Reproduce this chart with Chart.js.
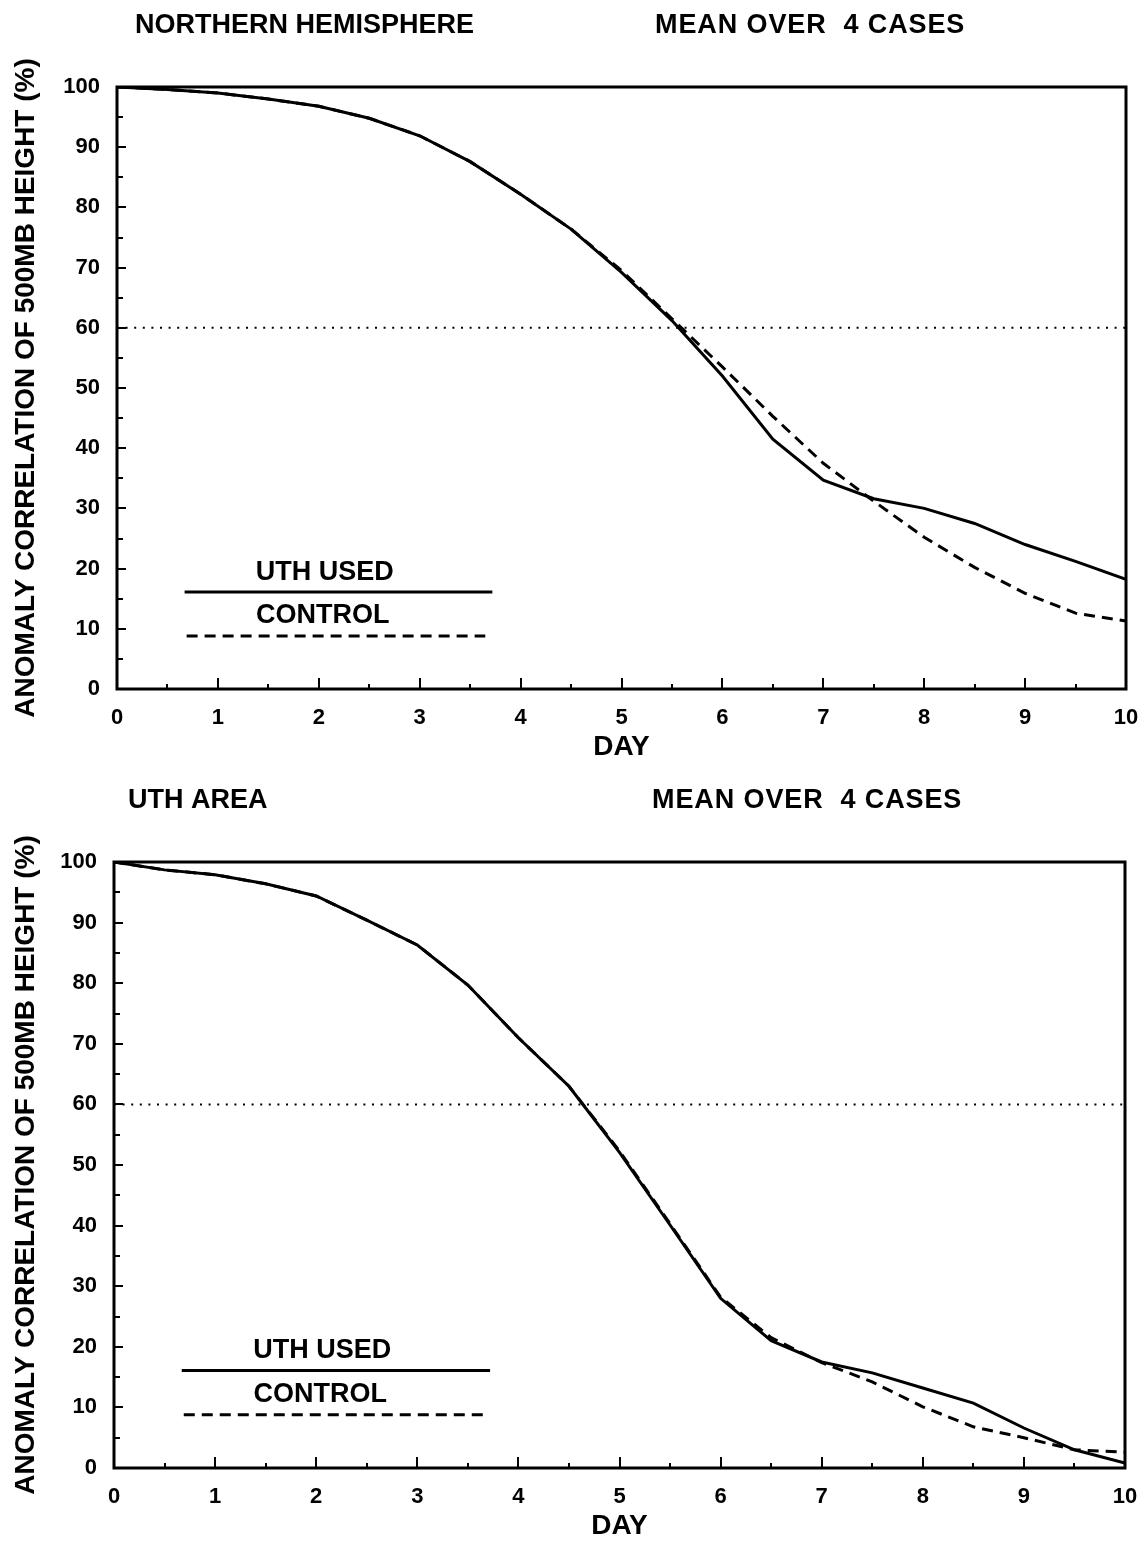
<!DOCTYPE html>
<html>
<head>
<meta charset="utf-8">
<script src="https://cdn.jsdelivr.net/npm/chart.js@4.4.0/dist/chart.umd.min.js"></script>
<style>
  html, body { margin: 0; padding: 0; background: #fff; overflow: hidden; }
  body { width: 1144px; height: 1541px; position: relative; }
  canvas { position: absolute; left: 0; }
</style>
</head>
<body>
<canvas id="top" width="1144" height="770" style="top:0px"></canvas>
<canvas id="bottom" width="1144" height="774" style="top:775px"></canvas>
<script>
// ---------- DATA ----------
const days = [0, 0.5, 1, 1.5, 2, 2.5, 3, 3.5, 4, 4.5, 5, 5.5, 6, 6.5, 7, 7.5, 8, 8.5, 9, 9.5, 10];

const nhUthUsed = [100, 99.6, 99, 98, 96.8, 94.8, 91.9, 87.6, 82.2, 76.4, 69.2, 61.2, 52, 41.5, 34.7, 31.6, 30, 27.5, 24, 21.2, 18.2];
const nhControl = [100, 99.6, 99, 98, 96.8, 94.8, 91.9, 87.6, 82.2, 76.4, 69.5, 61.5, 53.5, 45.3, 37.5, 31.2, 25.2, 20.2, 15.9, 12.6, 11.3];

const uthUthUsed = [100, 98.7, 97.9, 96.4, 94.4, 90.4, 86.3, 79.7, 71, 63, 52.1, 40.1, 28, 21, 17.5, 15.7, 13.2, 10.7, 6.6, 3, 0.8];
const uthControl = [100, 98.7, 97.9, 96.4, 94.4, 90.4, 86.3, 79.7, 71, 63, 52.3, 40.3, 28.2, 21.5, 17.4, 14.2, 10.1, 6.8, 5, 3, 2.6];

const thresholdValue = 60;
const seriesNames = ['UTH USED', 'CONTROL'];
const topTitles = ['NORTHERN HEMISPHERE', 'MEAN OVER  4 CASES'];
const bottomTitles = ['UTH AREA', 'MEAN OVER  4 CASES'];
const xAxisTitle = 'DAY';
const yAxisTitle = 'ANOMALY CORRELATION OF 500MB HEIGHT (%)';
const xTickValues = [0, 1, 2, 3, 4, 5, 6, 7, 8, 9, 10];
const yTickValues = [0, 10, 20, 30, 40, 50, 60, 70, 80, 90, 100];

// ---------- HELPERS ----------
const FONT = '"Liberation Sans", Arial, Helvetica, sans-serif';

function toPoints(xs, ys) { return xs.map((x, i) => ({ x: x, y: ys[i] })); }

const decorPlugin = {
  id: 'decor',
  afterDatasetsDraw(chart, args, opts) {
    const ctx = chart.ctx;
    const a = chart.chartArea;
    const xs = chart.scales.x, ys = chart.scales.y;
    ctx.save();
    ctx.strokeStyle = '#000';
    ctx.fillStyle = '#000';
    // inward ticks
    ctx.lineWidth = 2;
    ctx.beginPath();
    for (let v = 0; v <= 10.001; v += 0.5) {
      const px = Math.round(xs.getPixelForValue(v));
      const len = (Math.abs(v - Math.round(v)) < 0.01) ? 11 : 5;
      ctx.moveTo(px, a.bottom);
      ctx.lineTo(px, a.bottom - len);
    }
    for (let v = 0; v <= 100.001; v += 5) {
      const py = Math.round(ys.getPixelForValue(v));
      const len = (v % 10 === 0) ? 9 : 6;
      ctx.moveTo(a.left, py);
      ctx.lineTo(a.left + len, py);
    }
    ctx.stroke();
    // frame
    ctx.lineWidth = 3;
    ctx.strokeRect(a.left, a.top, a.right - a.left, a.bottom - a.top);
    // legend inside plot
    const lg = opts.legend;
    ctx.font = 'bold 27px ' + FONT;
    ctx.textAlign = 'center';
    ctx.textBaseline = 'middle';
    lg.forEach(item => {
      ctx.fillText(item.text, xs.getPixelForValue(item.textX), ys.getPixelForValue(item.textY));
      ctx.beginPath();
      ctx.lineWidth = 3;
      ctx.setLineDash(item.dash);
      ctx.moveTo(xs.getPixelForValue(item.x0), ys.getPixelForValue(item.y));
      ctx.lineTo(xs.getPixelForValue(item.x1), ys.getPixelForValue(item.y));
      ctx.stroke();
      ctx.setLineDash([]);
    });
    // titles
    ctx.font = 'bold 27px ' + FONT;
    ctx.textAlign = 'left';
    ctx.textBaseline = 'middle';
    opts.titles.forEach(t => {
      ctx.letterSpacing = t.spacing || '0px';
      ctx.fillText(t.text, t.x, t.y);
    });
    ctx.letterSpacing = '0px';
    ctx.restore();
  }
};

function makeChart(id, uth, ctl, titles, geom) {
  const dashStyle = [11, 7];
  return new Chart(document.getElementById(id), {
    type: 'line',
    data: {
      datasets: [
        { label: 'threshold', data: toPoints([0, 10], [thresholdValue, thresholdValue]),
          borderColor: '#000', borderWidth: 2, borderDash: [2, 6.6], pointRadius: 0, fill: false },
        { label: seriesNames[1], data: toPoints(days, ctl),
          borderColor: '#000', borderWidth: 3, borderDash: dashStyle, pointRadius: 0, tension: 0, fill: false },
        { label: seriesNames[0], data: toPoints(days, uth),
          borderColor: '#000', borderWidth: 3, pointRadius: 0, tension: 0, fill: false }
      ]
    },
    options: {
      responsive: false,
      animation: false,
      devicePixelRatio: 1,
      layout: { padding: { top: geom.top, right: geom.right, left: 0, bottom: 0 } },
      plugins: {
        legend: { display: false },
        tooltip: { enabled: false },
        decor: {
          titles: [
            { text: titles[0], x: geom.title1X, y: 26, spacing: '0px' },
            { text: titles[1], x: geom.title2X, y: 26, spacing: '0.9px' }
          ],
          legend: [
            { text: seriesNames[0], textX: 2.06, textY: 19.3, x0: 0.67, x1: 3.72, y: 16.1, dash: [] },
            { text: seriesNames[1], textX: 2.04, textY: 12.2, x0: 0.69, x1: 3.65, y: 8.8, dash: dashStyle }
          ]
        }
      },
      scales: {
        x: {
          type: 'linear', min: 0, max: 10,
          afterFit: s => { s.height = 81; s.paddingLeft = 0; s.paddingRight = 0; },
          afterBuildTicks: s => { s.ticks = xTickValues.map(v => ({ value: v })); },
          ticks: { color: '#000', font: { family: FONT, size: 22, weight: 'bold' }, padding: 16, maxRotation: 0 },
          grid: { display: false, drawTicks: false },
          border: { display: false },
          title: { display: true, text: xAxisTitle, color: '#000',
                   font: { family: FONT, size: 28, weight: 'bold' }, padding: { top: 0, bottom: 6 } }
        },
        y: {
          type: 'linear', min: 0, max: 100,
          afterFit: s => { s.width = geom.left; s.paddingTop = 0; s.paddingBottom = 0; },
          afterBuildTicks: s => { s.ticks = yTickValues.map(v => ({ value: v })); },
          ticks: { color: '#000', font: { family: FONT, size: 22, weight: 'bold' }, padding: 17 },
          grid: { display: false, drawTicks: false },
          border: { display: false },
          title: { display: true, text: yAxisTitle, color: '#000',
                   font: { family: FONT, size: 28, weight: 'bold' }, padding: { top: 9, bottom: 0 } }
        }
      }
    },
    plugins: [decorPlugin]
  });
}

makeChart('top', nhUthUsed, nhControl, topTitles,
  { top: 87, right: 1144 - 1126, left: 117, title1X: 135, title2X: 655 });
makeChart('bottom', uthUthUsed, uthControl, bottomTitles,
  { top: 87, right: 1144 - 1125, left: 114, title1X: 128, title2X: 652 });
</script>
</body>
</html>
